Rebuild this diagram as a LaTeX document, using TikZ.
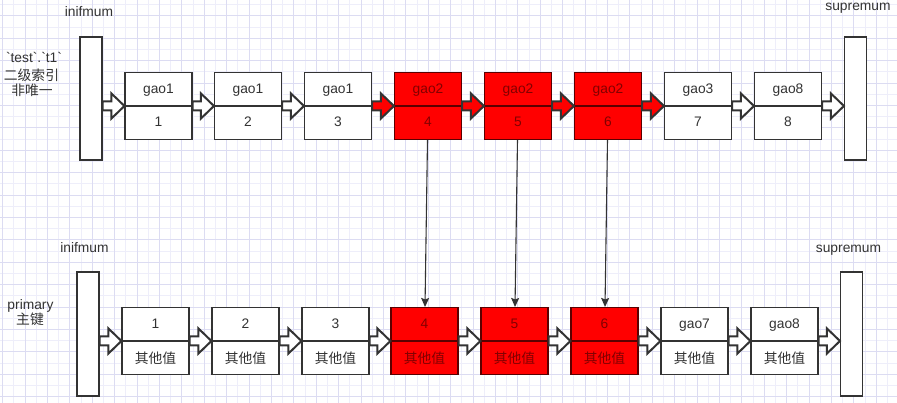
\documentclass[tikz,border=0pt]{standalone}
\usepackage{fontspec}
\setmainfont{Liberation Sans}
\newfontfamily\cjk{Noto Sans CJK SC}
\usetikzlibrary{calc,arrows.meta}
\definecolor{ink}{RGB}{51,51,51}
\definecolor{gridmin}{RGB}{238,238,250}
\definecolor{gridmaj}{RGB}{220,220,242}
\definecolor{redfill}{RGB}{255,0,0}
\definecolor{redline}{RGB}{90,0,0}
\definecolor{redtext}{RGB}{130,0,0}
\tikzset{
  cell/.style={draw=ink, fill=white, line width=1.1pt, minimum width=67pt,
    minimum height=67pt, inner sep=0pt,
    path picture={\draw[ink, line width=1.1pt] (path picture bounding box.west) -- (path picture bounding box.east);}},
  redcell/.style={draw=redline, fill=redfill, line width=1.1pt, minimum width=67pt,
    minimum height=67pt, inner sep=0pt,
    path picture={\draw[redline, line width=1.1pt] (path picture bounding box.west) -- (path picture bounding box.east);}},
  bar/.style={draw=ink, fill=white, line width=1.1pt, minimum width=22pt,
    minimum height=123pt, inner sep=0pt},
  txt/.style={anchor=base, inner sep=0pt, text=ink, font=\fontsize{13.8}{16}\selectfont},
  rtxt/.style={txt, text=redtext},
  ctxt/.style={txt, font=\fontsize{13.8}{16}\selectfont\cjk},
  rctxt/.style={ctxt, text=redtext},
  blk/.style={draw=ink, line width=2pt, line join=miter},
  vline/.style={draw=ink, line width=1.1pt, -{Stealth[length=9pt,width=8pt,inset=1.5pt]}},
}
% block arrow: #1 fill, #2 from, #3 to, #4 node giving the height
\newcommand\blockarrow[4][white]{%
  \draw[blk, fill=#1] let \p1=(#2.east), \p2=(#3.west), \p3=(#4.center) in
    (\x1,\y3+4.5pt) -- (\x2-13pt,\y3+4.5pt) -- (\x2-13pt,\y3+12.5pt) -- (\x2,\y3)
    -- (\x2-13pt,\y3-12.5pt) -- (\x2-13pt,\y3-4.5pt) -- (\x1,\y3-4.5pt) -- cycle;}
\begin{document}
\begin{tikzpicture}[x=1pt,y=-1pt]
\useasboundingbox (0,0) rectangle (897,403);
\fill[white] (0,0) rectangle (897,403);
% grid
\foreach \i in {0,...,40}{\pgfmathsetmacro\xx{13.7+22.4*\i}\draw[gridmin,line width=0.8pt] (\xx,0) -- (\xx,403);}
\foreach \i in {0,...,18}{\pgfmathsetmacro\yy{4.6+22.4*\i}\draw[gridmin,line width=0.8pt] (0,\yy) -- (897,\yy);}
\foreach \i in {0,...,40}{\pgfmathsetmacro\xx{2.5+22.4*\i}\draw[gridmaj,line width=0.8pt] (\xx,0) -- (\xx,403);}
\foreach \i in {0,...,18}{\pgfmathsetmacro\yy{15.8+22.4*\i}\draw[gridmaj,line width=0.8pt] (0,\yy) -- (897,\yy);}

% ---------- top row ----------
\node[bar] (tL) at (91,98.5) {};
\node[bar] (tR) at (855.5,98.5) {};
\node[txt] (tLlab) at (89,17) {inifmum};
\node[txt] (tRlab) at (858,10.5) {supremum};
\node[txt] (idx1) at (34,63) {\textasciigrave test\textasciigrave.\textasciigrave t1\textasciigrave};
\node[ctxt] (idx2) at (31.5,80.5) {二级索引};
\node[ctxt] (idx3) at (32,95.5) {非唯一};

\foreach \n/\x/\u in {1/158.5/gao1,2/248/gao1,3/338/gao1,7/698/gao3,8/788/gao8}{
  \node[cell] (t\n) at (\x,106) {};
  \node[txt] (t\n u) at (\x,93.5) {\u};
  \node[txt] (t\n l) at (\x,127) {\n};
}
\foreach \n/\x in {4/428,5/518,6/608}{
  \node[redcell] (t\n) at (\x,106) {};
  \node[rtxt] (t\n u) at (\x,93.5) {gao2};
  \node[rtxt] (t\n l) at (\x,127) {\n};
}

% ---------- bottom row ----------
\node[bar, minimum height=124pt] (bL) at (88,334) {};
\node[bar, minimum height=124pt] (bR) at (851.5,334) {};
\node[txt] (bLlab) at (84.5,253) {inifmum};
\node[txt] (bRlab) at (848.5,253) {supremum};
\node[txt] (pk1) at (30.5,309) {primary};
\node[ctxt] (pk2) at (30,324) {主键};

\foreach \n/\x/\u in {1/155.5/1,2/245.5/2,3/335.5/3,7/694.5/gao7,8/784.5/gao8}{
  \node[cell] (b\n) at (\x,341) {};
  \node[txt] (b\n u) at (\x,328.5) {\u};
  \node[ctxt] (b\n l) at (\x,363.5) {其他值};
}
\foreach \n/\x in {4/424.5,5/514.5,6/604.5}{
  \node[redcell] (b\n) at (\x,341) {};
  \node[rtxt] (b\n u) at (\x,328.5) {\n};
  \node[rctxt] (b\n l) at (\x,363.5) {其他值};
}

% ---------- block arrows ----------
\blockarrow{tL}{t1}{t1}
\blockarrow{t1}{t2}{t1}
\blockarrow{t2}{t3}{t2}
\blockarrow[redfill]{t3}{t4}{t3}
\blockarrow[redfill]{t4}{t5}{t4}
\blockarrow[redfill]{t5}{t6}{t5}
\blockarrow[redfill]{t6}{t7}{t6}
\blockarrow{t7}{t8}{t7}
\blockarrow{t8}{tR}{t8}

\blockarrow{bL}{b1}{b1}
\blockarrow{b1}{b2}{b1}
\blockarrow{b2}{b3}{b2}
\blockarrow{b3}{b4}{b3}
\blockarrow{b4}{b5}{b4}
\blockarrow{b5}{b6}{b5}
\blockarrow{b6}{b7}{b6}
\blockarrow{b7}{b8}{b7}
\blockarrow{b8}{bR}{b8}

% ---------- vertical links ----------
\draw[vline] (t4) -- (b4);
\draw[vline] (t5) -- (b5);
\draw[vline] (t6) -- (b6);
\end{tikzpicture}
\end{document}
